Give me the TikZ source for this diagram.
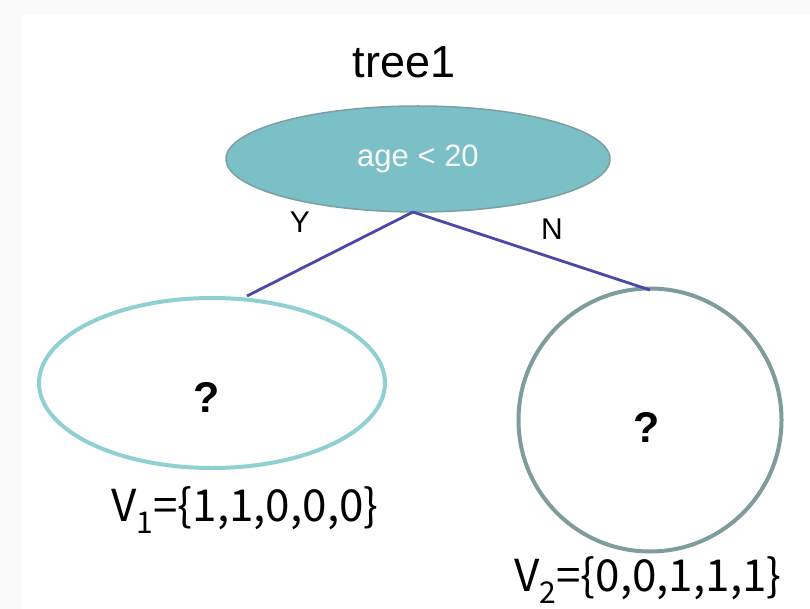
\documentclass[tikz,border=0pt]{standalone}
\usepackage{fontspec}
\setmainfont{Liberation Sans}
\newfontfamily\cjkfont{Noto Sans CJK SC}
\usetikzlibrary{shapes.geometric}
\definecolor{rootfill}{HTML}{7BBFC7}
\definecolor{rootdraw}{HTML}{7E9FA2}
\definecolor{edgeblue}{HTML}{4A48A8}
\definecolor{leftdraw}{HTML}{8FD0D3}
\definecolor{rightdraw}{HTML}{7E9C9C}
\definecolor{bandgray}{HTML}{FAFAFA}
\tikzset{
  rootnode/.style={ellipse, fill=rootfill, draw=rootdraw, line width=1.5pt, minimum width=384pt, minimum height=106pt, inner sep=0pt, text=white!95!gray, font=\fontsize{31}{31}\selectfont},
  leafell/.style={ellipse, draw=leftdraw, line width=4pt, minimum width=346pt, minimum height=170pt, inner sep=0pt},
  leafcirc/.style={circle, draw=rightdraw, line width=4pt, minimum size=263pt, inner sep=0pt},
  qmark/.style={font=\fontsize{43}{43}\selectfont\bfseries},
  edge/.style={draw=edgeblue, line width=2.8pt},
  lbl/.style={font=\fontsize{30}{30}\selectfont},
  vlabel/.style={font=\cjkfont\fontsize{44}{44}\selectfont, inner sep=0pt},
}
\newcommand{\lowsub}[1]{\raisebox{-0.28em}{\fontsize{30}{30}\selectfont #1}}
\begin{document}
\begin{tikzpicture}[x=1pt,y=-1pt]
\fill[bandgray] (0,0) rectangle (810,609);
\fill[white] (22,15) rectangle (810,609);
\useasboundingbox (0,0) rectangle (810,609);
\node[font=\fontsize{45}{45}\selectfont] (title) at (404,62) {tree1};
\node[rootnode] (root) at (418,159) {age < 20};
\node[leafell] (left) at (212,383) {};
\node[qmark] (q1) at (207,397) {?};
\node[leafcirc] (right) at (650,420) {};
\node[qmark] (q2) at (647,427) {?};
\coordinate (top) at (413,212);
\coordinate (lend) at (247,296);
\coordinate (rend) at (650,290);
\draw[edge] (top) -- (lend);
\draw[edge] (top) -- (rend);
\node[lbl] (Y) at (300,222) {Y};
\node[lbl] (N) at (552,229) {N};
\node[vlabel] (v1) at (245,510) {V\lowsub{1}=\{1,1,0,0,0\}};
\node[vlabel] (v2) at (648,580) {V\lowsub{2}=\{0,0,1,1,1\}};
\end{tikzpicture}
\end{document}
